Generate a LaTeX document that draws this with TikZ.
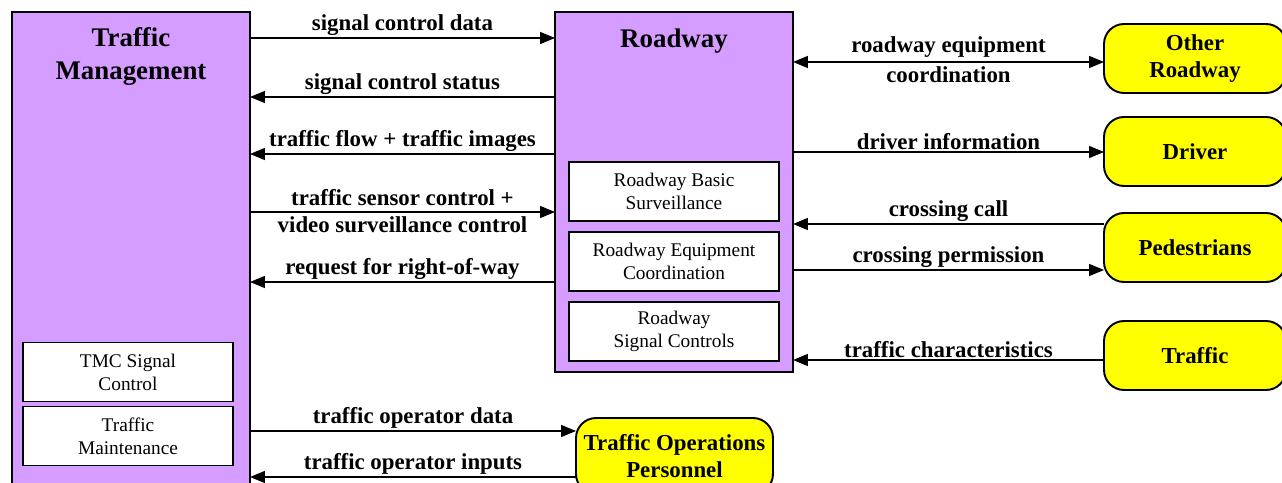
\documentclass[tikz,border=0pt]{standalone}
\usepackage{fontspec}
\setmainfont{Liberation Serif}
\usetikzlibrary{arrows.meta,positioning}
\definecolor{cPurple}{HTML}{D49DFF}
\definecolor{cYellow}{HTML}{FFFF00}
\tikzset{
  >={Triangle[length=3mm,width=2.4mm]},
  sysbox/.style={draw, fill=cPurple, line width=1.1pt, outer sep=0pt, minimum width=4.76cm},
  subbox/.style={draw, fill=white, line width=1.1pt, align=center, outer sep=0pt,
                 minimum width=4.2cm, minimum height=1.18cm, font=\fontsize{11}{13}\selectfont},
  termbox/.style={draw, fill=cYellow, rounded corners=0.4cm, line width=1.1pt, align=center, outer sep=0pt,
                  minimum width=3.64cm, minimum height=1.38cm, font=\bfseries\fontsize{13}{15.3}\selectfont},
  title/.style={align=center, font=\bfseries\fontsize{15.3}{18.7}\selectfont},
  arr/.style={line width=0.85pt},
  lbl/.style={font=\bfseries\fontsize{13}{15.3}\selectfont, inner sep=1pt},
}

\begin{document}
\begin{tikzpicture}[x=0.02cm, y=-0.02cm]
    \useasboundingbox (0,0) rectangle (1282,483);
    \clip (0,0) rectangle (1282,483);
    % subsystems
    \node[sysbox, minimum height=10.56cm] (tm) at (131,276) {};
    \node[title] (tmtitle) at (131,56.5) {Traffic\\Management};
    \node[sysbox, minimum height=7.2cm] (rw) at (674,192) {};
    \node[title] (rwtitle) at (674,41) {Roadway};
    % equipment packages
    \node[subbox] (rbs) at (674,191.5) {Roadway Basic\\Surveillance};
    \node[subbox] (rec) at (674,261.5) {Roadway Equipment\\Coordination};
    \node[subbox] (rsc) at (674,331.5) {Roadway\\Signal Controls};
    \node[subbox] (tsc) at (128,372) {TMC Signal\\Control};
    \node[subbox] (tmn) at (128,436) {Traffic\\Maintenance};
    % terminators
    \node[termbox] (oth) at (1195,58.5) {Other\\Roadway};
    \node[termbox] (drv) at (1195,151.5) {Driver};
    \node[termbox] (ped) at (1195,247.5) {Pedestrians};
    \node[termbox] (trf) at (1195,355.5) {Traffic};
    \node[termbox, minimum width=3.94cm, minimum height=1.52cm] (top) at (674.5,456) {Traffic Operations\\Personnel};
    % flows between centers
    \draw[arr, ->] (tm.east |- 0,38) -- (rw.west |- 0,38)
        node[lbl, midway, above] {signal control data};
    \draw[arr, <-] (tm.east |- 0,97) -- (rw.west |- 0,97)
        node[lbl, midway, above] {signal control status};
    \draw[arr, <-] (tm.east |- 0,154) -- (rw.west |- 0,154)
        node[lbl, midway, above] {traffic flow + traffic images};
    \draw[arr, ->] (tm.east |- 0,212) -- (rw.west |- 0,212)
        node[lbl, midway, above=2.2pt] {traffic sensor control +}
        node[lbl, midway, below=1.1pt] {video surveillance control};
    \draw[arr, <-] (tm.east |- 0,282) -- (rw.west |- 0,282)
        node[lbl, midway, above] {request for right-of-way};
    % flows to terminators
    \draw[arr, ->] (tm.east |- 0,431) -- (top.west |- 0,431)
        node[lbl, midway, above] {traffic operator data};
    \draw[arr, <-] (tm.east |- 0,477) -- (top.west |- 0,477)
        node[lbl, midway, above] {traffic operator inputs};
    \draw[arr, <->] (rw.east |- 0,62) -- (oth.west |- 0,62)
        node[lbl, midway, above=1pt] {roadway equipment}
        node[lbl, midway, below=1pt] {coordination};
    \draw[arr, ->] (rw.east |- 0,152) -- (drv.west |- 0,152)
        node[lbl, midway, above] {driver information};
    \draw[arr, <-] (rw.east |- 0,224) -- (ped.west |- 0,224)
        node[lbl, midway, above] {crossing call};
    \draw[arr, ->] (rw.east |- 0,270) -- (ped.west |- 0,270)
        node[lbl, midway, above] {crossing permission};
    \draw[arr, <-] (rw.east |- 0,360) -- (trf.west |- 0,360)
        node[lbl, midway, above] {traffic characteristics};
\end{tikzpicture}
\end{document}
